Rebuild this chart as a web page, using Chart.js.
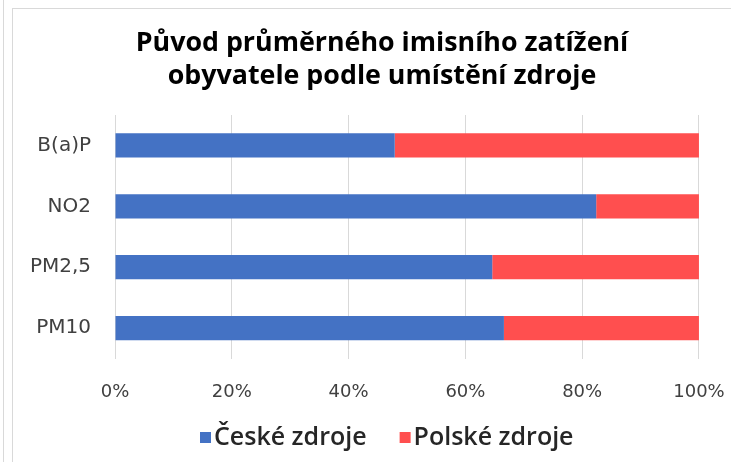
<!DOCTYPE html>
<html>
<head>
<meta charset="utf-8">
<script src="https://cdn.jsdelivr.net/npm/chart.js@4/dist/chart.umd.min.js"></script>
<style>
  body { margin: 0; background: #fff; }
  #wrap { position: relative; width: 731px; height: 462px; overflow: hidden; }
  .edge { position: absolute; left: 3px; top: 0; width: 1px; height: 462px; background: #d9d9d9; }
  .box { position: absolute; left: 12px; top: 8px; width: 740px; height: 470px;
         border-left: 1px solid #d9d9d9; border-top: 1px solid #d9d9d9; }
  canvas { position: absolute; left: 0; top: 0; }
</style>
</head>
<body>
<div id="wrap">
  <div class="edge"></div>
  <div class="box"></div>
  <canvas id="sourceChart" width="731" height="462"></canvas>
</div>
<script>
const categories = ['B(a)P', 'NO2', 'PM2,5', 'PM10'];
const ceskeZdroje = [47.9, 82.4, 64.6, 66.6];
const polskeZdroje = [52.1, 17.6, 35.4, 33.4];
const xTicks = [0, 20, 40, 60, 80, 100];
const seriesColors = ['#4472c4', '#ff4f4f'];

// legend swatch: small square sitting close to its label
function legendSwatch(color) {
    const c = document.createElement('canvas');
    c.width = 40;
    c.height = 11;
    const g = c.getContext('2d');
    g.fillStyle = color;
    g.fillRect(24, 0, 11, 11);
    return c;
}
const swatches = seriesColors.map(legendSwatch);

const ctx = document.getElementById('sourceChart').getContext('2d');
new Chart(ctx, {
    type: 'bar',
    data: {
        labels: categories,
        datasets: [{
            label: 'České zdroje',
            data: ceskeZdroje,
            backgroundColor: seriesColors[0],
            categoryPercentage: 0.5,
            barPercentage: 0.8
        }, {
            label: 'Polské zdroje',
            data: polskeZdroje,
            backgroundColor: seriesColors[1],
            categoryPercentage: 0.5,
            barPercentage: 0.8
        }]
    },
    options: {
        indexAxis: 'y',
        responsive: false,
        animation: false,
        layout: {
            // title and legend are centred a bit right of the canvas middle
            padding: { top: 0, right: -3, bottom: 2, left: 30 }
        },
        scales: {
            x: {
                stacked: true,
                min: 0,
                max: 100,
                afterBuildTicks: scale => {
                    scale.ticks = xTicks.map(v => ({ value: v }));
                },
                afterFit: scale => { scale.height = 43; },
                grid: { color: '#d9d9d9', drawTicks: true, tickLength: 17, tickColor: 'rgba(0,0,0,0)' },
                border: { display: false },
                ticks: {
                    padding: 6.3,
                    color: '#404040',
                    font: { family: 'DejaVu Sans', size: 18 },
                    callback: v => v + '%'
                }
            },
            y: {
                stacked: true,
                afterFit: scale => { scale.width = 85; },
                grid: { display: false, drawTicks: false },
                border: { display: false },
                ticks: {
                    padding: 24,
                    color: '#404040',
                    font: { family: 'DejaVu Sans', size: 20 }
                }
            }
        },
        plugins: {
            title: {
                display: true,
                text: ['Původ průměrného imisního zatížení', 'obyvatele podle umístění zdroje'],
                color: '#000',
                font: { family: 'Open Sans', size: 26.8, weight: 'bold', lineHeight: 1.2313 },
                padding: { top: 27, bottom: 22 }
            },
            legend: {
                position: 'bottom',
                labels: {
                    boxWidth: 11,
                    boxHeight: 11,
                    padding: 23.5,
                    usePointStyle: true,
                    color: '#262626',
                    font: { family: 'Open Sans', size: 25, weight: '600' },
                    generateLabels: chart => {
                        const items = Chart.defaults.plugins.legend.labels.generateLabels(chart);
                        items.forEach((item, i) => { item.pointStyle = swatches[i]; });
                        return items;
                    }
                }
            },
            tooltip: { enabled: false }
        }
    }
});
</script>
</body>
</html>
